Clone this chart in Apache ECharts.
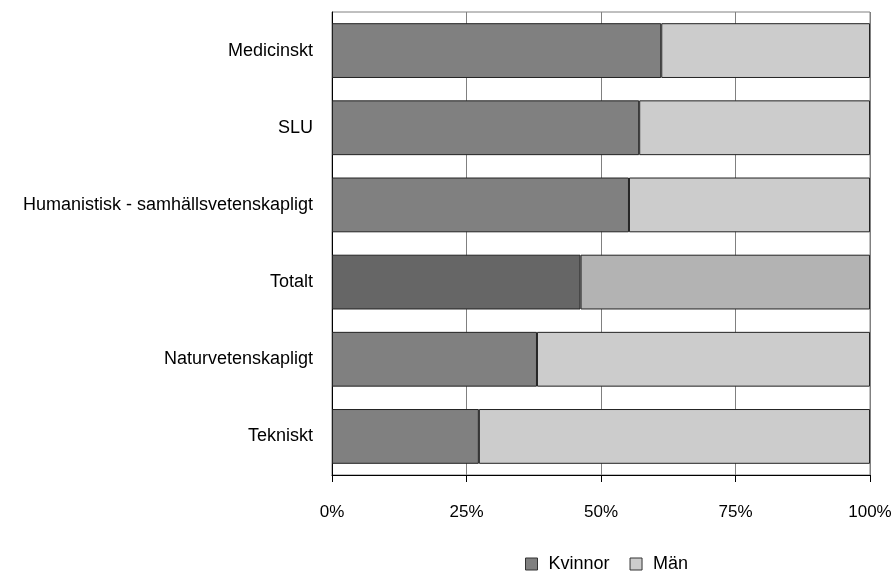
<!DOCTYPE html>
<html>
<head>
<meta charset="utf-8">
<script src="https://cdn.jsdelivr.net/npm/echarts@6/dist/echarts.min.js"></script>
<style>html,body{margin:0;padding:0;background:#fff;}#c{width:895px;height:574px;}</style>
</head>
<body>
<div id="c"></div>
<script>
var categories = ['Medicinskt', 'SLU', 'Humanistisk - samhällsvetenskapligt', 'Totalt', 'Naturvetenskapligt', 'Tekniskt'];
var kvinnor = [61.2, 57.1, 55.2, 46.2, 38.1, 27.3];
var man = [38.8, 42.9, 44.8, 53.8, 61.9, 72.7];
var xTicks = [0, 25, 50, 75, 100];
var seriesNames = ['Kvinnor', 'Män'];

var highlight = 'Totalt';
function build(vals, normal, dark) {
  return vals.map(function (v, i) {
    return categories[i] === highlight ? { value: v, itemStyle: { color: dark } } : { value: v, itemStyle: { color: normal } };
  });
}
var font = 'Liberation Sans, Arial, sans-serif';
var chart = echarts.init(document.getElementById('c'));
chart.setOption({
  animation: false,
  backgroundColor: '#fff',
  grid: { left: 332, right: 25, top: 12, bottom: 99, show: true, borderColor: '#808080', borderWidth: 1, containLabel: false },
  legend: {
    top: 555, left: 525, padding: 0,
    icon: 'rect', itemWidth: 12, itemHeight: 12, itemGap: 20,
    textStyle: { fontFamily: font, fontSize: 18, color: '#000', padding: [0, 0, 0, 6] },
    data: [
      { name: seriesNames[0], itemStyle: { color: '#808080', borderColor: '#333', borderWidth: 1 } },
      { name: seriesNames[1], itemStyle: { color: '#cccccc', borderColor: '#333', borderWidth: 1 } }
    ]
  },
  xAxis: {
    type: 'value', min: 0, max: 100, interval: 25,
    axisLine: { show: true, lineStyle: { color: '#000', width: 1 } },
    axisTick: { show: true, length: 7, lineStyle: { color: '#000' } },
    axisLabel: { margin: 29, fontFamily: font, fontSize: 17, color: '#000', formatter: function (v) { return xTicks.indexOf(v) >= 0 ? v + '%' : ''; } },
    splitLine: { show: true, lineStyle: { color: '#808080', width: 1 } }
  },
  yAxis: {
    type: 'category', inverse: true, data: categories,
    axisLine: { show: true, lineStyle: { color: '#000' } },
    axisTick: { show: false },
    axisLabel: { margin: 19, fontFamily: font, fontSize: 18, color: '#000' }
  },
  series: [
    { name: seriesNames[0], type: 'bar', stack: 's', barWidth: '71%', data: build(kvinnor, '#808080', '#666666'),
      itemStyle: { borderColor: '#222', borderWidth: 1 } },
    { name: seriesNames[1], type: 'bar', stack: 's', barWidth: '71%', data: build(man, '#cccccc', '#b3b3b3'),
      itemStyle: { borderColor: '#222', borderWidth: 1 } }
  ]
});
</script>
</body>
</html>
